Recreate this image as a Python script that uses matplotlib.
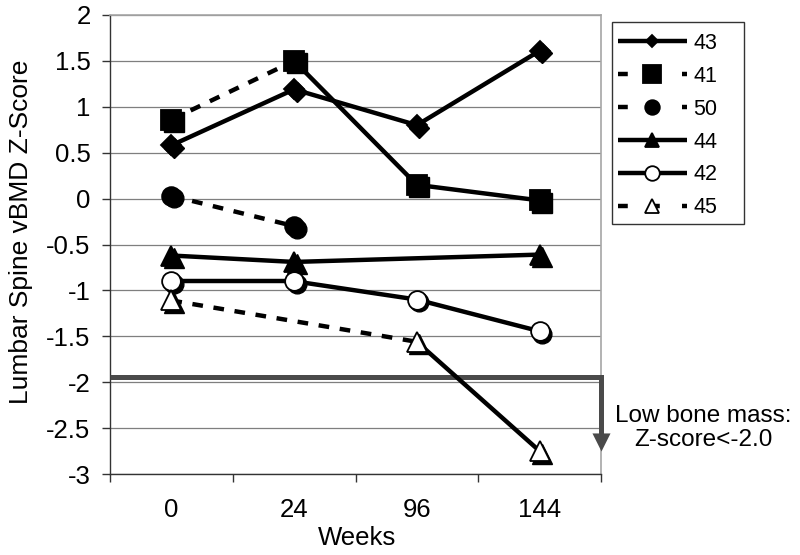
import matplotlib
matplotlib.use('Agg')
import matplotlib.pyplot as plt
import matplotlib.transforms as mtransforms
from matplotlib.lines import Line2D
from matplotlib.patches import Rectangle
import numpy as np

plt.rcParams['font.family'] = ['Liberation Sans', 'DejaVu Sans']

# Datos (Z-score por paciente)
weeks = ['0', '24', '96', '144']
z43 = [0.58, 1.19, 0.80, 1.61]
z41 = [0.86, 1.50, 0.15, -0.02]
z50 = [0.03, -0.30, None, None]
z44 = [-0.62, -0.69, None, -0.61]
z42 = [-0.90, -0.90, -1.10, -1.445]
z45 = [-1.11, None, -1.56, -2.75]
low_bone = -1.94
low_bone_tip = -2.75

DASH = (0, (2.4, 2.4))
LEG_DASH = (0, (2.2, 5.0))
GRIS = '#4a4a4a'

# (nombre, valores, marcador, relleno, tamaño, estilo de cada tramo)
series = [
    ('43', z43, 'D', 'black', 10, ['-', '-', '-']),
    ('41', z41, 's', 'black', 14.5, [DASH, '-', '-']),
    ('50', z50, 'o', 'black', 13.5, [DASH]),
    ('44', z44, '^', 'black', 14, ['-', '-']),
    ('42', z42, 'o', 'white', 13.5, ['-', '-', '-']),
    ('45', z45, '^', 'white', 14, [DASH, '-']),
]

fig = plt.figure(figsize=(8, 5.55), dpi=100)
ax = fig.add_axes([110 / 800, 1 - 474 / 555, 491 / 800, 459 / 555])

x_all = np.arange(len(weeks))
shadow = mtransforms.offset_copy(ax.transData, fig=fig, x=2.5, y=-2.5, units='dots')

for name, vals, mk, fc, ms, styles in series:
    pts = [(x, v) for x, v in zip(x_all, vals) if v is not None]
    xs = [p[0] for p in pts]
    ys = [p[1] for p in pts]
    for i, st in enumerate(styles):
        ax.plot(xs[i:i + 2], ys[i:i + 2], color='black', lw=3.2, linestyle=st,
                solid_capstyle='butt', dash_capstyle='butt', zorder=3)
    # sombra de los marcadores
    ax.plot(xs, ys, linestyle='none', marker=mk, ms=ms, mfc='black', mec='black',
            transform=shadow, zorder=4)
    ax.plot(xs, ys, linestyle='none', marker=mk, ms=ms, mfc=fc, mec='black',
            mew=1.3, zorder=5)

# línea de masa ósea baja con flecha hacia abajo
head_h = 17 / 459 * 5  # altura de la punta en unidades de datos
ax.plot([-0.5, 3.5, 3.5], [low_bone, low_bone, low_bone_tip + head_h * 0.8],
        color=GRIS, lw=3.6, solid_joinstyle='miter', solid_capstyle='butt',
        zorder=2.7, clip_on=False)
ax.plot([3.5], [low_bone_tip], linestyle='none', color=GRIS,
        marker=[(-0.5, 1), (0.5, 1), (0, 0)], ms=26, mew=0, zorder=2.7, clip_on=False)

ax.set_xlim(-0.5, 3.5)
ax.set_ylim(-3, 2)
ax.set_yticks(np.arange(-3, 2.01, 0.5))
ax.set_yticklabels(['-3', '-2.5', '-2', '-1.5', '-1', '-0.5', '0', '0.5', '1', '1.5', '2'])
ax.set_xticks(np.arange(-0.5, 3.6, 1.0))
ax.set_xticklabels([])
ax.set_xticks(x_all, minor=True)
ax.set_xticklabels(weeks, minor=True)
ax.tick_params(axis='x', which='major', length=6, width=1, color='#333333', direction='out')
ax.tick_params(axis='x', which='minor', length=0, pad=17, labelsize=18.5)
ax.tick_params(axis='y', length=6, width=1, color='#333333', direction='out', pad=8,
               labelsize=18.5)
ax.yaxis.grid(True, color='#7f7f7f', lw=0.9)
ax.set_axisbelow(True)

for s in ['top', 'right']:
    ax.spines[s].set_color('#a6a6a6')
    ax.spines[s].set_linewidth(1.2)
for s in ['left', 'bottom']:
    ax.spines[s].set_color('#333333')
    ax.spines[s].set_linewidth(1.0)

fig.text(21 / 800, 1 - 232 / 555, 'Lumbar Spine vBMD Z-Score', rotation=90,
         ha='center', va='center', fontsize=19)
fig.text(357 / 800, 1 - 538 / 555, 'Weeks', ha='center', va='center', fontsize=18.5)
fig.text(703 / 800, 1 - 428 / 555, 'Low bone mass:\nZ-score<-2.0', ha='center',
         va='center', fontsize=17.5, linespacing=1.15)

# leyenda
leg_ms = {'D': 6.5, 's': 13, 'o': 10.5, '^': 10}
handles = []
for name, vals, mk, fc, ms, styles in series:
    ls = LEG_DASH if styles[0] == DASH else '-'
    handles.append(Line2D([], [], color='black', lw=3.2, linestyle=ls, marker=mk,
                          ms=leg_ms[mk], mfc=fc, mec='black', mew=1.3,
                          dash_capstyle='butt', solid_capstyle='butt'))
fig.legend(handles, [s[0] for s in series], loc='upper left',
           bbox_to_anchor=(618 / 800, 1 - 33 / 555), frameon=False, fontsize=15.5,
           handlelength=3.2, handletextpad=0.3, labelspacing=0.55, borderpad=0,
           borderaxespad=0)
fig.patches.append(Rectangle((612 / 800, 1 - 224 / 555), 132 / 800, 202 / 555,
                             transform=fig.transFigure, fill=False,
                             edgecolor='#333333', lw=1.0))

fig.savefig('out.png', dpi=100)
